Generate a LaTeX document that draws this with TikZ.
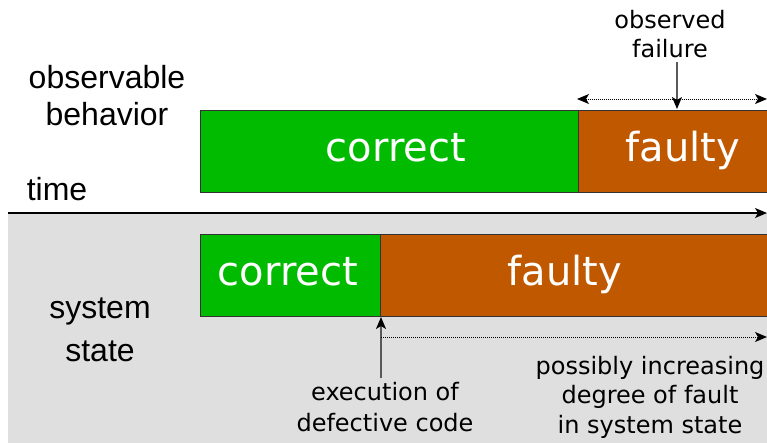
\documentclass[tikz,border=0pt]{standalone}
\usepackage{fontspec}
\setmainfont{DejaVu Sans}
\newfontfamily\labelfont{Liberation Sans}
\usetikzlibrary{arrows.meta}

\definecolor{okgreen}{RGB}{0,187,0}
\definecolor{badorange}{RGB}{192,88,0}
\definecolor{stategray}{RGB}{223,223,223}
\definecolor{boxedge}{RGB}{51,51,51}

% multi-line texts are placed by the baseline of their last line
\tikzset{
  tip/.tip={Stealth[length=12pt,width=10pt,inset=3pt,black]},
  phase/.style={draw=boxedge, line width=1.3pt, inner sep=0pt, anchor=north west},
  okphase/.style={phase, fill=okgreen},
  badphase/.style={phase, fill=badorange},
  phasetext/.style={text=white, font=\fontsize{40}{48}\selectfont, anchor=base, inner sep=0pt},
  sidetext/.style={font=\labelfont\fontsize{32}{40}\selectfont, anchor=base, align=center, inner sep=0pt},
  notetext/.style={font=\fontsize{24}{29.5}\selectfont, anchor=base, align=center, inner sep=0pt},
  pointer/.style={draw=black!65, line width=1.3pt, -tip},
  span/.style={densely dotted, line width=1pt, tip-tip},
  spanright/.style={densely dotted, line width=1pt, -tip},
}

\begin{document}
\begin{tikzpicture}[x=1pt, y=-1pt]
  \useasboundingbox (0,0) rectangle (767,442);
  \clip (0,0) rectangle (767,442);

  % system-state band
  \fill[stategray] (8,213) rectangle (790,450);

  % time axis
  \coordinate (t0) at (8,213);
  \coordinate (t1) at (767,213);
  \draw[line width=1.3pt, -tip] (t0) -- (t1);
  \node[sidetext] (time) at (57,200) {time};

  % observable behaviour row
  \node[okphase, minimum width=378pt, minimum height=82pt] (obsok) at (200,110) {};
  \node[badphase, minimum width=220pt, minimum height=82pt] (obsbad) at (578,110) {};
  \node[phasetext] (obsoklbl) at (396,161) {correct};
  \node[phasetext] (obsbadlbl) at (683,161) {faulty};
  \node[sidetext] (obslbl) at (107,125) {observable\\[-3pt]behavior};

  % system state row
  \node[okphase, minimum width=180pt, minimum height=82pt] (stok) at (200,234) {};
  \node[badphase, minimum width=420pt, minimum height=82pt] (stbad) at (380,234) {};
  \node[phasetext] (stoklbl) at (288,285) {correct};
  \node[phasetext] (stbadlbl) at (565,285) {faulty};
  \node[sidetext] (stlbl) at (100,361) {system\\[3pt]state};

  % observed failure
  \node[notetext] (failnote) at (670,57) {observed\\[-1pt]failure};
  \coordinate (failhit) at (677,109);
  \draw[pointer] (677,62) -- (failhit);
  \coordinate (fl) at (577,99);
  \coordinate (fr) at (767,99);
  \draw[span] (fl) -- (fr);

  % execution of defective code
  \node[notetext] (execnote) at (385,431) {execution of\\[1pt]defective code};
  \coordinate (exechit) at (381,317);
  \coordinate (execfoot) at (381,378);
  \draw[pointer] (execfoot) -- (exechit);
  \coordinate (gl) at (381,337);
  \coordinate (gr) at (767,337);
  \draw[spanright] (gl) -- (gr);

  \node[notetext] (degnote) at (650,433) {possibly increasing\\degree of fault\\in system state};
\end{tikzpicture}
\end{document}
